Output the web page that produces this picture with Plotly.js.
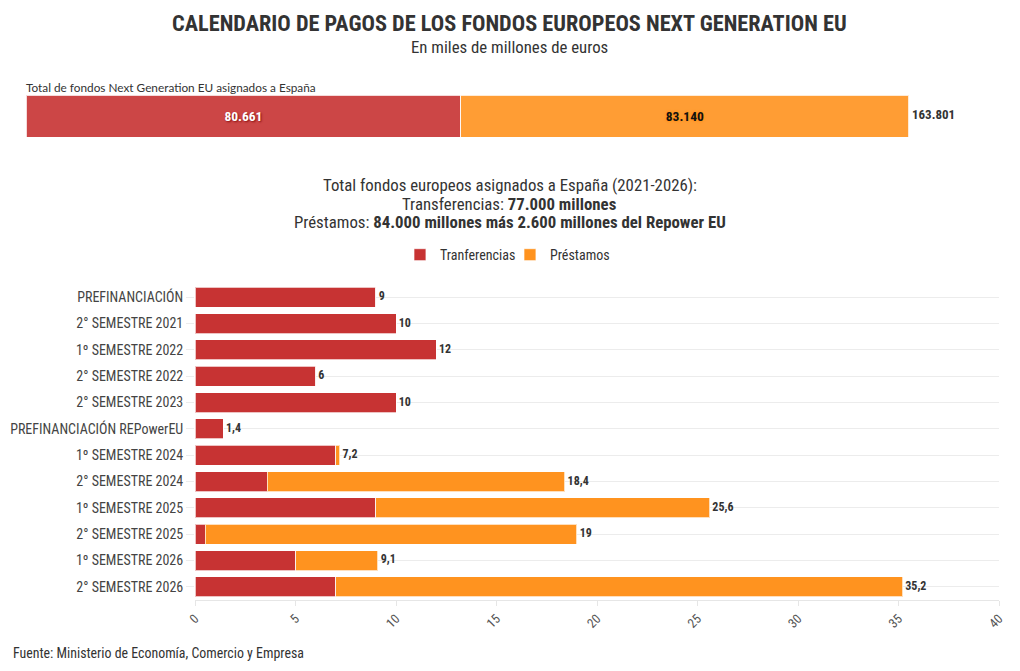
<!DOCTYPE html>
<html><head><meta charset="utf-8">
<script src="https://cdn.plot.ly/plotly-3.0.1.min.js"></script>
<style>html,body{margin:0;padding:0;background:#fff}#chart{width:1020px;height:671px}</style>
</head><body><div id="chart"></div>
<script>
// ---- data ----
const categories = ["PREFINANCIACIÓN","2° SEMESTRE 2021","1º SEMESTRE 2022","2° SEMESTRE 2022","2° SEMESTRE 2023","PREFINANCIACIÓN REPowerEU","1º SEMESTRE 2024","2° SEMESTRE 2024","1º SEMESTRE 2025","2° SEMESTRE 2025","1º SEMESTRE 2026","2° SEMESTRE 2026"];
const transferencias = [9, 10, 12, 6, 10, 1.4, 7, 3.6, 9, 0.5, 5, 7];
const prestamos = [0, 0, 0, 0, 0, 0, 0.2, 14.8, 16.6, 18.5, 4.1, 28.2];
const totals = [9, 10, 12, 6, 10, 1.4, 7.2, 18.4, 25.6, 19, 9.1, 35.2];
const seriesNames = ["Tranferencias", "Préstamos"];
const topLabel = ["España"];
const topTransferencias = [80661];
const topPrestamos = [83140];
const topTotal = [163801];

const F = "'Roboto Condensed', 'Liberation Sans Narrow', 'DejaVu Sans Condensed', Roboto, sans-serif";
const RED = "#c73333", ORANGE = "#ff931f";
const NB = "\u00a0";
const fmtDec = v => String(v).replace('.', ',');
const fmtThousands = v => String(v).replace(/\B(?=(\d{3})+(?!\d))/g, '.');

const traces = [
  {type:'bar', orientation:'h', name:seriesNames[0], x:transferencias, y:categories,
   marker:{color:RED, line:{color:'rgba(255,255,255,0.7)', width:1}}, xaxis:'x', yaxis:'y', hoverinfo:'x+y'},
  {type:'bar', orientation:'h', name:seriesNames[1], x:prestamos, y:categories,
   marker:{color:ORANGE, line:{color:'rgba(255,255,255,0.7)', width:1}}, xaxis:'x', yaxis:'y', hoverinfo:'x+y'},
  {type:'scatter', mode:'text', x:totals, y:categories, text:totals.map(v => NB + fmtDec(v)),
   textposition:'middle right', textfont:{family:F, size:12, color:'#333', weight:'bold'},
   showlegend:false, xaxis:'x', yaxis:'y', hoverinfo:'skip', cliponaxis:false},
  {type:'bar', orientation:'h', x:topTransferencias, y:topLabel, width:1, showlegend:false,
   marker:{color:RED, opacity:0.9, line:{color:'rgba(255,255,255,0.8)', width:1}},
   text:topTransferencias.map(fmtThousands), textposition:'inside', insidetextanchor:'middle',
   textfont:{family:F, size:13.5, color:'#fff', weight:'bold', shadow:'1px 1px 2px #8a1010'},
   xaxis:'x2', yaxis:'y2'},
  {type:'bar', orientation:'h', x:topPrestamos, y:topLabel, width:1, showlegend:false,
   marker:{color:ORANGE, opacity:0.9, line:{color:'rgba(255,255,255,0.8)', width:1}},
   text:topPrestamos.map(fmtThousands), textposition:'inside', insidetextanchor:'middle',
   textfont:{family:F, size:13.5, color:'#111', weight:'bold', shadow:'0px 0px 3px #ff8800'},
   xaxis:'x2', yaxis:'y2'},
  {type:'scatter', mode:'text', x:topTotal, y:topLabel, text:topTotal.map(v => NB + fmtThousands(v)),
   textposition:'middle right', textfont:{family:F, size:13, color:'#333', weight:'bold'},
   showlegend:false, xaxis:'x2', yaxis:'y2', hoverinfo:'skip', cliponaxis:false}
];

const midY = v => (600 - v) / 505;
const layout = {
  width:1020, height:671,
  margin:{l:26, r:21, t:95, b:71},
  paper_bgcolor:'#fff', plot_bgcolor:'#fff',
  font:{family:F, color:'#444', size:14},
  barmode:'stack', bargap:0.24,
  showlegend:true,
  legend:{orientation:'h', traceorder:'normal', x:0.4974, xanchor:'center', y:0.683, yanchor:'middle',
    font:{family:F, size:14, color:'#333'}, itemwidth:30, tracegroupgap:0, entrywidth:65},
  xaxis:{domain:[0.1737,1], range:[0,40], dtick:5, tickangle:-45, showgrid:false, zeroline:false,
    showline:true, linecolor:'#e6e6e6', ticks:'outside', ticklen:5, tickcolor:'#e6e6e6',
    tickfont:{family:F, size:13, color:'#555'}, anchor:'y'},
  yaxis:{domain:[0,0.6257], type:'category', range:[11.5,-0.5], showgrid:true, gridcolor:'#ececec',
    ticks:'outside', ticklen:8, tickcolor:'#ececec', zeroline:false,
    tickfont:{family:F, size:14, color:'#444'}, anchor:'x'},
  xaxis2:{domain:[0,1], range:[0,180500], visible:false, anchor:'y2'},
  yaxis2:{domain:[0.9168,1], type:'category', range:[-0.5,0.5], visible:false, anchor:'x2'},
  annotations:[
    {xref:'paper', yref:'paper', x:0.4974, y:midY(23), xanchor:'center', yanchor:'middle', showarrow:false,
     text:'<b>CALENDARIO DE PAGOS DE LOS FONDOS EUROPEOS NEXT GENERATION EU</b>', font:{family:F, size:22.3, color:'#333'}},
    {xref:'paper', yref:'paper', x:0.4974, y:midY(47), xanchor:'center', yanchor:'middle', showarrow:false,
     text:'En miles de millones de euros', font:{family:F, size:16.8, color:'#333'}},
    {xref:'paper', yref:'paper', x:-0.002, y:midY(87), xanchor:'left', yanchor:'middle', showarrow:false,
     text:'Total de fondos Next Generation EU asignados a España', font:{family:'Lato, sans-serif', size:11.8, color:'#333'}},
    {xref:'paper', yref:'paper', x:0.4974, y:midY(185), xanchor:'center', yanchor:'middle', showarrow:false,
     text:'Total fondos europeos asignados a España (2021-2026):', font:{family:F, size:16.8, color:'#333'}},
    {xref:'paper', yref:'paper', x:0.4974, y:midY(203.5), xanchor:'center', yanchor:'middle', showarrow:false,
     text:'Transferencias: <b>77.000 millones</b>', font:{family:F, size:16.8, color:'#333'}},
    {xref:'paper', yref:'paper', x:0.4974, y:midY(222), xanchor:'center', yanchor:'middle', showarrow:false,
     text:'Préstamos: <b>84.000 millones más 2.600 millones del Repower EU</b>', font:{family:F, size:16.8, color:'#333'}},
    {xref:'paper', yref:'paper', x:(11-26)/973, y:midY(653), xanchor:'left', yanchor:'middle', showarrow:false,
     text:'Fuente: Ministerio de Economía, Comercio y Empresa', font:{family:F, size:13.9, color:'#333'}}
  ]
};

Plotly.newPlot('chart', traces, layout, {displayModeBar:false, responsive:false});
</script></body></html>
